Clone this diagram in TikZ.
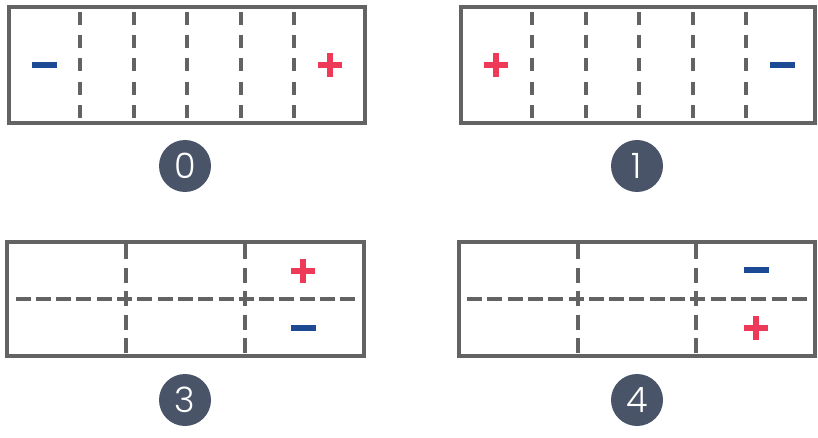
\documentclass[tikz,border=0pt]{standalone}
\usepackage{fontspec}
\newfontfamily\badgefont{Poppins Light}
\definecolor{cFrame}{RGB}{99,99,99}
\definecolor{cPos}  {RGB}{238,57,88}
\definecolor{cNeg}  {RGB}{29,74,148}
\definecolor{cBadge}{RGB}{73,84,104}
\tikzset{
  frameB/.style  = {draw=cFrame, line width=4.5pt, inner sep=0pt,
                    minimum width=356pt, minimum height=116pt},
  divL/.style    = {draw=cFrame, line width=4pt, dash pattern=on 13pt off 10.25pt},
  gridH/.style   = {draw=cFrame, line width=4pt, dash pattern=on 15pt off 5.3pt},
  gridV/.style   = {draw=cFrame, line width=4pt, dash pattern=on 15pt off 8.5pt},
  badge/.style   = {circle, fill=cBadge, minimum size=52pt, inner sep=0pt,
                    text=white, font=\badgefont\fontsize{35}{35}\selectfont},
  signplus/.pic  = {\fill[cPos] (-12,-3) rectangle (12,3);
                    \fill[cPos] (-3,-12) rectangle (3,12);},
  signminus/.pic = {\fill[cNeg] (-12.5,-2.8) rectangle (12.5,2.8);},
}
\begin{document}
\begin{tikzpicture}[x=1pt, y=-1pt]
\useasboundingbox (0,0) rectangle (818,438);

%% ─── Top row: six slices ─────────────────────────────────────────
\node[frameB] (bx0) at (187,65) {};
\node[frameB, minimum width=354pt] (bx1) at (638,65) {};

\foreach \dx in {-107,-53.5,0,53.5,107} {
  \draw[divL] (187+\dx,12) -- (187+\dx,118);
  \draw[divL] (639+\dx,12) -- (639+\dx,118);
}

\pic at (44,65)  {signminus};
\pic at (330,65) {signplus};
\pic at (496,65) {signplus};
\pic at (782,65) {signminus};

\node[badge] (n0) at (185,166) {0};
\node[badge] (n1) at (637,166) {1};

%% ─── Bottom row: 3 x 2 grid ──────────────────────────────────────
\node[frameB, minimum width=357pt, minimum height=114pt] (bx3) at (185.5,299) {};
\node[frameB, minimum height=114pt] (bx4) at (637,299) {};

\foreach \cx in {185.5,637} {
  \draw[gridH] (\cx-170,299) -- (\cx+170,299);
  \foreach \dx in {-59.5,59} \draw[gridV] (\cx+\dx,244) -- (\cx+\dx,353);
}

\pic at (303,271) {signplus};
\pic at (303,328) {signminus};
\pic at (756,270) {signminus};
\pic at (756,328) {signplus};

\node[badge] (n3) at (185,400) {3};
\node[badge] (n4) at (637,400) {4};

\end{tikzpicture}
\end{document}
